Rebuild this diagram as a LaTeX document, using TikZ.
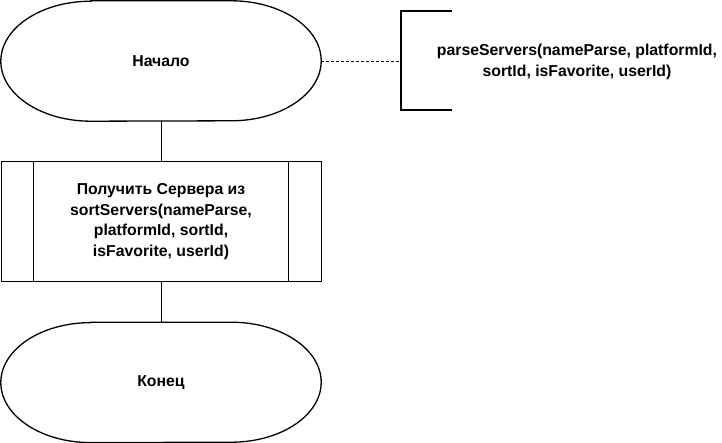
\documentclass[tikz,border=0pt]{standalone}
\usepackage{fontspec}
\setmainfont{Liberation Sans}
\usetikzlibrary{positioning}

\begin{document}
\begin{tikzpicture}[x=1pt, y=1pt,
  txt/.style = {font=\fontsize{15.8}{20.5}\selectfont\bfseries, align=center},
  term/.style = {txt, minimum width=320pt, minimum height=120pt, inner sep=0pt},
  proc/.style = {txt, draw, line width=1pt, minimum width=320pt, minimum height=120pt, inner sep=0pt},
  outl/.style = {line width=1.3pt}]
\useasboundingbox (0,0) rectangle (722,-442);

\node[term] (start) at (161,-61) {Начало};
\node[proc] (get) [below=40pt of start] {Получить Сервера из\\sortServers(nameParse,\\platformId, sortId,\\isFavorite, userId)};
\node[term] (stop) [below=40pt of get] {Конец};
\node[txt] (note) at (577,-62) {parseServers(nameParse, platformId,\\sortId, isFavorite, userId)};
\coordinate (brk) at (401,-61);

% terminator outlines
\foreach \n in {start,stop}
  \draw[outl] ([xshift=90pt]\n.north west) -- ([xshift=-90pt]\n.north east)
    arc[start angle=90, end angle=-90, x radius=90pt, y radius=60pt]
    -- ([xshift=90pt]\n.south west)
    arc[start angle=270, end angle=90, x radius=90pt, y radius=60pt] -- cycle;

% predefined process side bars
\draw[line width=1pt] ([xshift=33pt]get.north west) -- ([xshift=33pt]get.south west);
\draw[line width=1pt] ([xshift=-33pt]get.north east) -- ([xshift=-33pt]get.south east);

\draw[line width=1pt] (start) -- (get);
\draw[line width=1pt] (get) -- (stop);

% annotation
\draw[line width=0.8pt, dash pattern=on 3pt off 2pt] (start.east) -- (brk);
\draw[outl] ([xshift=51pt, yshift=50pt]brk) -- ([yshift=50pt]brk) -- ([yshift=-49pt]brk) -- ([xshift=51pt, yshift=-49pt]brk);

\end{tikzpicture}
\end{document}
